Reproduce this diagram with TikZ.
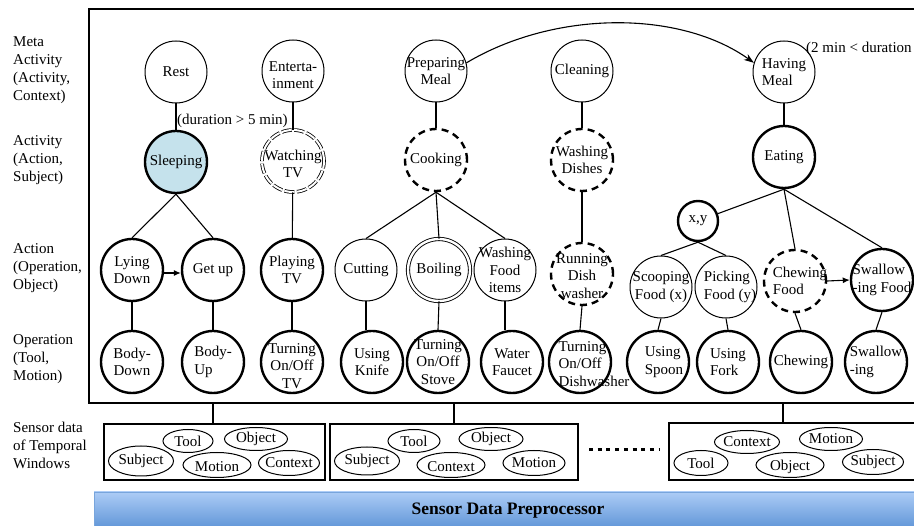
\documentclass[tikz,border=0pt]{standalone}
\usepackage{fontspec}
\setmainfont{Liberation Serif}
\usetikzlibrary{shapes.geometric,arrows.meta}
\newcommand\myfnt{\fontsize{15}{17.5}\selectfont}
\newcommand\mysidefnt{\fontsize{15}{18}\selectfont}
\definecolor{sleepblue}{RGB}{197,226,236}
\definecolor{bartop}{RGB}{172,204,246}
\definecolor{barbot}{RGB}{88,144,212}
\definecolor{barline}{RGB}{120,165,220}
\tikzset{
 nd/.style={circle, minimum size=62pt, inner sep=0pt, draw, line width=1pt},
 thk/.style={nd, line width=2.4pt},
 dsh/.style={nd, line width=2.4pt, dash pattern=on 7pt off 5pt},
 dbl/.style={nd, double, double distance=2.4pt, line width=0.9pt},
 dbldsh/.style={nd, double, double distance=2pt, line width=0.8pt, dash pattern=on 10pt off 2.5pt},
 t/.style={align=center, font=\myfnt, inner sep=0pt},
 tl/.style={align=left, font=\myfnt, inner sep=0pt},
 con/.style={line width=1.1pt},
 sens/.style={ellipse, draw, line width=1pt, minimum height=23pt, inner sep=0pt},
 side/.style={align=left, font=\mysidefnt, anchor=west, inner sep=0pt},
 box/.style={draw, line width=1.1pt, rectangle, inner sep=0pt},
}
\begin{document}
\begin{tikzpicture}[x=1pt,y=-1pt]
\useasboundingbox (0,0) rectangle (914,526);

% frame
\draw[line width=1.3pt] (89,9) rectangle (918,403);

% side labels
\node[side] (l1) at (13,70) {Meta\\Activity\\(Activity,\\Context)};
\node[side] (l2) at (13,160) {Activity\\(Action,\\Subject)};
\node[side] (l3) at (13,268) {Action\\(Operation,\\Object)};
\node[side] (l4) at (13,359) {Operation\\(Tool,\\Motion)};
\node[side] (l5) at (13,445) {Sensor data\\of Temporal\\Windows};

% meta activity
\node[nd, label={[t]center:Rest}] (rest) at (176,72) {};
\node[nd, label={[t, yshift=-4pt]center:Enterta-\\inment}] (ent) at (293,71) {};
\node[nd, label={[t]center:Preparing\\Meal}] (pm) at (436,71) {};
\node[nd, label={[t]center:Cleaning}] (cl) at (582,71) {};
\node[nd, label={[tl]center:Having\\Meal}] (hm) at (784,72) {};

% activity
\node[thk, fill=sleepblue, label={[t]center:Sleeping}] (sl) at (176,162) {};
\node[dbldsh, label={[t, yshift=-3pt]center:Watching\\TV}] (wt) at (293,161) {};
\node[dsh, label={[t]center:Cooking}] (ck) at (436,160) {};
\node[dsh, label={[t]center:Washing\\Dishes}] (wd) at (582,160) {};
\node[thk, label={[t]center:Eating}] (eat) at (784,157) {};
\node[thk, minimum size=40pt, label={[t]center:{x,y}}] (xy) at (698,221) {};

% action
\node[thk, label={[t]center:Lying\\Down}] (ld) at (132,270) {};
\node[thk, label={[t]center:Get up}] (gu) at (213,270) {};
\node[thk, label={[t]center:Playing\\TV}] (pt) at (292,270) {};
\node[nd, label={[t]center:Cutting}] (cut) at (366,270) {};
\node[dbl, label={[t]center:Boiling}] (boil) at (439,270) {};
\node[nd, label={[t]center:Washing\\Food\\items}] (wf) at (505,270) {};
\node[dsh, label={[t, yshift=-2pt]center:Running\\Dish\\washer}] (rd) at (582,274) {};
\node[nd, label={[t]center:Scooping\\Food (x)}] (sf) at (661,287) {};
\node[nd, label={[tl, xshift=4pt]center:Picking\\Food (y)}] (pf) at (726,287) {};
\node[dsh, label={[tl, xshift=5pt]center:Chewing\\Food}] (cf) at (795,281) {};
\node[thk, label={[tl]center:Swallow\\-ing Food}] (swf) at (882,280) {};

% operation
\node[thk, label={[t]center:Body-\\Down}] (bd) at (132,362) {};
\node[thk, label={[tl]center:Body-\\Up}] (bu) at (213,362) {};
\node[thk, label={[t, yshift=-4pt]center:Turning\\On/Off\\TV}] (tv) at (292,362) {};
\node[thk, label={[t]center:Using\\Knife}] (uk) at (372,362) {};
\node[thk, label={[t]center:Turning\\On/Off\\Stove}] (ts) at (438,362) {};
\node[thk, label={[t]center:Water\\Faucet}] (wfa) at (512,362) {};
\node[thk, label={[tl, xshift=14pt, yshift=-2pt]center:Turning\\On/Off\\Dishwasher}] (td) at (580,362) {};
\node[thk, label={[tl, xshift=6pt]center:Using\\Spoon}] (us) at (658,362) {};
\node[thk, label={[tl]center:Using\\Fork}] (uf) at (728,362) {};
\node[thk, label={[t]center:Chewing}] (ch) at (801,362) {};
\node[thk, label={[tl]center:Swallow\\-ing}] (sw) at (876,362) {};

% connectors
\draw[con] (rest) -- (sl);
\draw[con] (ent) -- (wt);
\draw[con] (pm) -- (ck);
\draw[con] (cl) -- (wd);
\draw[con] (hm) -- (eat);
\draw[con] (sl.south) -- (ld.north);
\draw[con] (sl.south) -- (gu.north);
\draw[con] (wt) -- (pt);
\draw[con] (ck.south) -- (cut.north);
\draw[con] (ck.south) -- (boil.north);
\draw[con] (ck.south) -- (wf.north);
\draw[con] (wd) -- (rd);
\draw[con] (eat.south) -- (xy);
\draw[con] (eat.south) -- (cf.north);
\draw[con] (eat.south) -- (swf.north);
\draw[con] (xy.south) -- (sf.north);
\draw[con] (xy.south) -- (pf.north);
\draw[con] (ld) -- (bd);
\draw[con] (gu) -- (bu);
\draw[con] (pt) -- (tv);
\draw[con] (cut.south) -- (cut.south |- uk.north);
\draw[con] (boil.south) -- (ts.north);
\draw[con] (wf.south) -- (wf.south |- wfa.north);
\draw[con] (rd.south) -- (td.north);
\draw[con] (sf.south) -- (us.north);
\draw[con] (pf.south) -- (uf.north);
\draw[con] (cf.south) -- (ch.north);
\draw[con] (swf.south) -- (sw.north);

\draw[con, -{Latex[length=7pt,width=6pt]}] ([yshift=-3pt]ld.east) -- ([yshift=-3pt]gu.west);
\draw[con, -{Latex[length=7pt,width=6pt]}] (cf.east) -- (swf.west);
\draw[con, -{Stealth[length=10pt,width=7pt]}] (pm.15) .. controls (555,10) and (680,10) .. (hm.163);

\node[t, anchor=west] (dur1) at (177,121) {(duration > 5 min)};
\node[t, anchor=west] (dur2) at (806,49) {(2 min < duration};

% sensor boxes
\node[box, minimum width=221pt, minimum height=56pt] (b1) at (214.5,452) {};
\node[box, minimum width=248pt, minimum height=56pt] (b2) at (454,452) {};
\node[box, minimum width=250pt, minimum height=57pt] (b3) at (794,451.5) {};
\coordinate (f1) at (213,403);
\coordinate (f2) at (454,403);
\coordinate (f3) at (783,403);
\draw[con] (f1) -- (f1 |- b1.north);
\draw[con] (f2) -- (f2 |- b2.north);
\draw[con] (f3) -- (f3 |- b3.north);

\node[sens, minimum width=50pt, label={[t]center:Tool}] (e11) at (188,441) {};
\node[sens, minimum width=63pt, label={[t]center:Object}] (e12) at (256,439) {};
\node[sens, minimum width=65pt, minimum height=30pt, label={[t]center:Subject}] (e13) at (141,461) {};
\node[sens, minimum width=68pt, minimum height=25pt, label={[t, yshift=-2pt]center:Motion}] (e14) at (217,465) {};
\node[sens, minimum width=61pt, minimum height=25pt, label={[t]center:Context}] (e15) at (289,463) {};

\node[sens, minimum width=52pt, label={[t]center:Tool}] (e21) at (414,441) {};
\node[sens, minimum width=64pt, label={[t]center:Object}] (e22) at (491,439) {};
\node[sens, minimum width=65pt, minimum height=28pt, label={[t]center:Subject}] (e23) at (367,461) {};
\node[sens, minimum width=68pt, minimum height=25pt, label={[t, yshift=-2pt]center:Context}] (e24) at (451,465) {};
\node[sens, minimum width=62pt, minimum height=25pt, label={[t]center:Motion}] (e25) at (534,463) {};

\node[sens, minimum width=65pt, label={[t]center:Context}] (e31) at (747,442) {};
\node[sens, minimum width=63pt, label={[t]center:Motion}] (e32) at (831,439) {};
\node[sens, minimum width=54pt, minimum height=25pt, label={[t]center:Tool}] (e33) at (701,463) {};
\node[sens, minimum width=68pt, minimum height=25pt, label={[t, yshift=-2pt]center:Object}] (e34) at (790,465) {};
\node[sens, minimum width=61pt, minimum height=25pt, label={[t]center:Subject}] (e35) at (873,462) {};

% dots
\coordinate (d1) at (589,450);
\coordinate (d2) at (659,450);
\draw[line width=3pt, dash pattern=on 4pt off 4.7pt] (d1) -- (d2);

% preprocessor bar
\shadedraw[top color=bartop, bottom color=barbot, draw=barline, line width=0.6pt] (94,492) rectangle (920,532);
\node[font=\fontsize{17.5}{20}\selectfont\bfseries, inner sep=0pt] (sdp) at (508,511) {Sensor Data Preprocessor};
\end{tikzpicture}
\end{document}
